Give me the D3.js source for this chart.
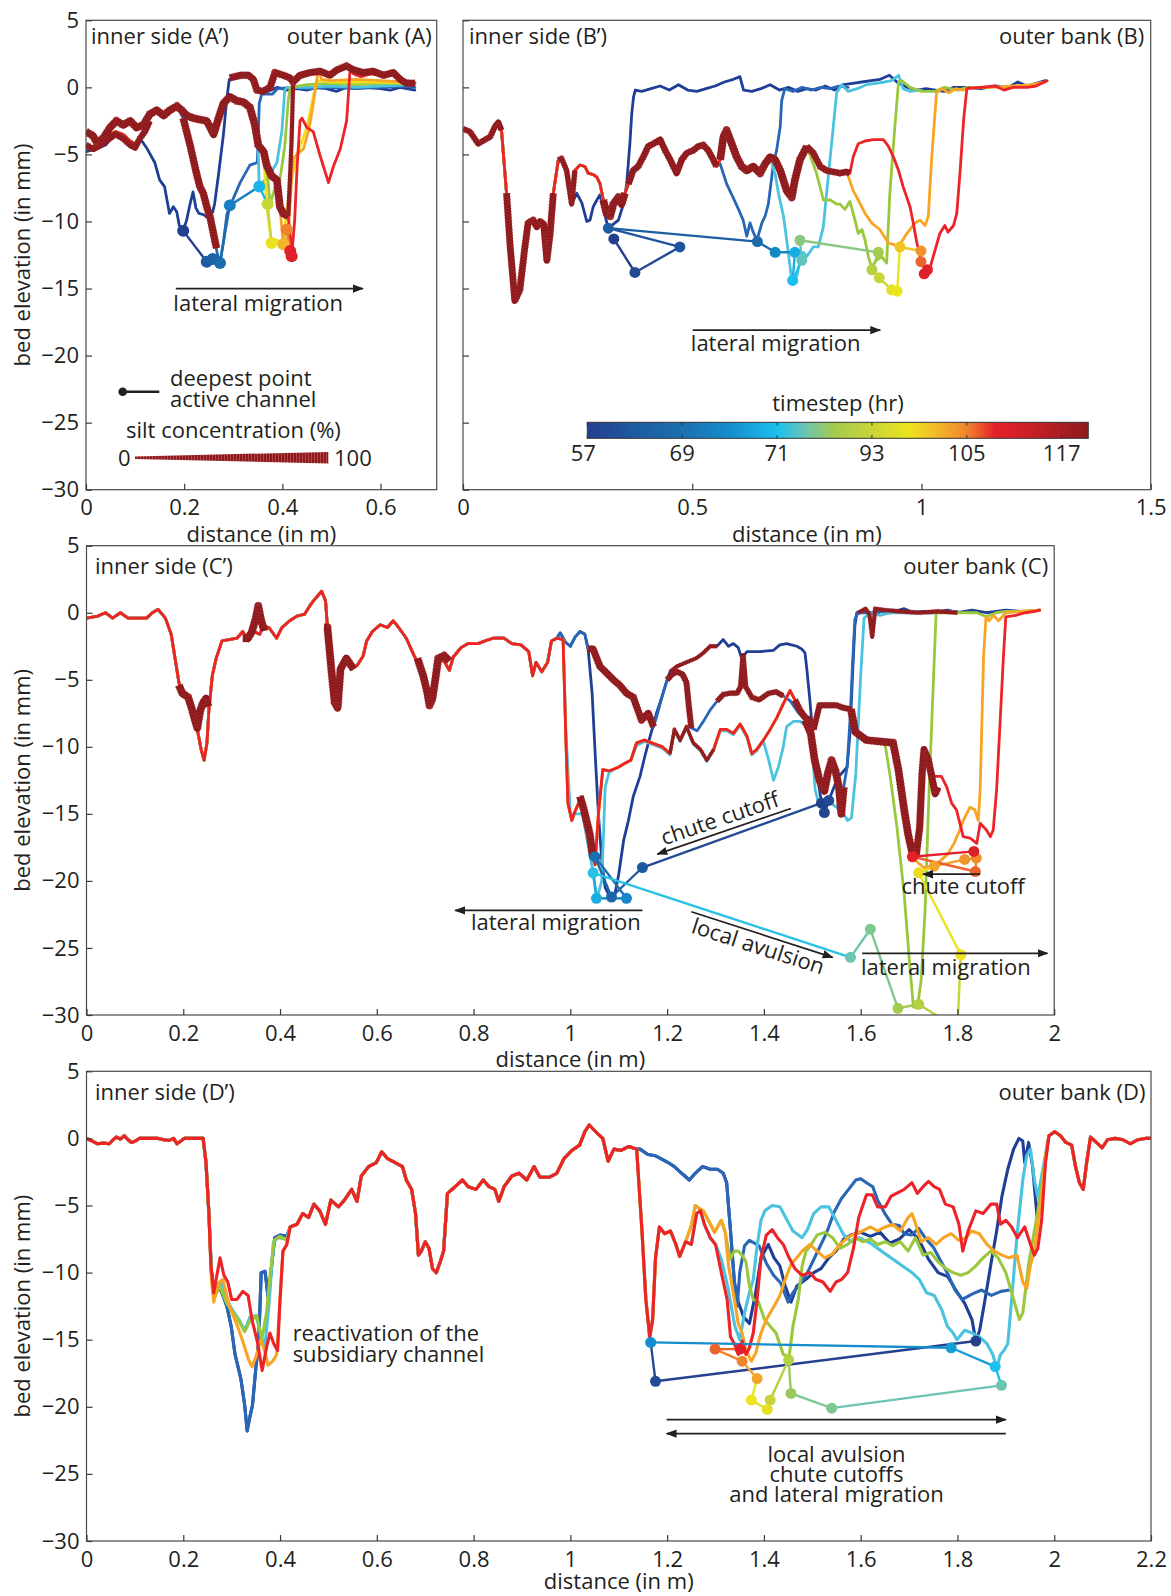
<!DOCTYPE html>
<html>
<head>
<meta charset="utf-8">
<title>Bed elevation profiles across the bend</title>
<script src="https://cdn.jsdelivr.net/npm/d3@7/dist/d3.min.js"></script>
<style>
  html, body { margin: 0; padding: 0; background: #fff; }
  svg { display: block; }
  text { font-family: "Open Sans", "Noto Sans", "DejaVu Sans", sans-serif; fill: #231f20; }
</style>
</head>
<body>
<svg id="chart" width="1171" height="1596"></svg>
<script>
// ---------------- timestep colour bar ----------------
const barTickLabels = ["57", "69", "71", "93", "105", "117"];
const barStops  = [0, 0.5, 1.0, 1.5, 2.0, 2.3, 2.6, 3.0, 3.4, 3.7, 4.0, 4.3, 4.7, 5.0, 5.28];
const barColors = ["#243f8e", "#1e5aa0", "#1a70b0", "#148dcc", "#1cc0ef", "#6cc5b2", "#a3cb4e",
                   "#c8d538", "#ece41e", "#f3b52a", "#ef842c", "#e5202a", "#c71f26", "#a81d22", "#8d1b1e"];

// colours of the bed profiles (one per timestep) and of the silt overlay
const profileColors = {
  navy: "#1f3f96", blue: "#2a66b6", cyan: "#4bc2de", green: "#99c83d",
  yellow: "#f1de1f", orange: "#f8a424", red: "#ec2328", silt: "#8c1a1c"
};

// ---------------- panel A : profile A'-A ----------------
const aInner = [[0,-4.6],[.015,-4.4],[.03,-4.2],[.045,-3.6],[.06,-3.3],[.075,-3.5],[.09,-4],[.1,-4.2],[.11,-3.8]];
const aRidge = [[.13,-2],[.144,-1.7],[.158,-2.1],[.171,-1.7],[.185,-1.4],[.195,-1.7],[.205,-2.1],[.219,-2.3],[.232,-2.4],
  [.246,-2.5],[.26,-3.5],[.27,-2.3],[.28,-1.2],[.293,-0.7],[.307,-1],[.321,-1.1],[.334,-1.5],[.344,-2.8],[.351,-4.3],[.362,-4.8]];
const aNavy = [[0,-4.8],[.02,-4.6],[.04,-4.3],[.06,-3.4],[.08,-3.6],[.095,-4.4],[.11,-3.8],[.125,-4.6],[.14,-5.6],[.15,-6.9],
  [.16,-7.4],[.165,-8.4],[.17,-9.4],[.178,-8.9],[.185,-9.3],[.19,-10.3],[.198,-10.7],[.205,-9.9],[.212,-8.7],[.218,-7.8],
  [.224,-9],[.23,-9.4],[.24,-9.5],[.25,-9.8],[.258,-9.3],[.262,-8.7],[.27,-6.5],[.28,-3.5],[.287,-0.8],[.292,0.6],[.31,0.7],
  [.33,0.9],[.345,0.5],[.35,-0.2],[.37,-0.3],[.39,0],[.41,-0.2],[.43,-0.1],[.45,-0.2],[.47,0],[.49,-0.1],[.51,-0.3],[.53,0],
  [.55,-0.1],[.57,0],[.6,-0.1],[.62,-0.2],[.64,0],[.67,-0.2]];
const aBlueTail = [[.198,-2.3],[.212,-4.3],[.225,-6.4],[.239,-7.9],[.253,-9.7],[.263,-11.5],[.268,-12.5],[.273,-13.1],[.28,-11.5],
  [.287,-9.5],[.293,-8.8],[.3,-8.3],[.314,-7.1],[.334,-5.8],[.349,-5.6],[.353,-1.2],[.358,-0.5],[.38,-0.5],[.39,-0.1],[.42,0],
  [.45,-0.1],[.5,0],[.55,-0.1],[.6,0],[.65,0.1],[.67,0]];
const aCyanTail = [[.351,-5],[.353,-7.4],[.362,-7],[.375,-6.5],[.389,-5.6],[.399,-3.3],[.405,-0.2],[.41,0],[.45,0],[.5,0.1],
  [.55,0],[.6,0.1],[.67,0.2]];
const aGreenTail = [[.368,-5.8],[.375,-8.7],[.385,-7.5],[.395,-6.9],[.405,-4.4],[.412,-1],[.416,0],[.45,0.2],[.5,0.3],[.55,0.2],
  [.6,0.3],[.67,0.3]];
const aYellowTail = [[.368,-8.8],[.378,-11.6],[.39,-11.4],[.4,-11.7],[.41,-9],[.418,-7],[.43,-5],[.45,-3],[.47,0.5],[.5,0.4],
  [.6,0.4],[.67,0.3]];
const aOrangeTail = [[.368,-5.8],[.378,-6.6],[.389,-6.9],[.395,-8.9],[.402,-11.7],[.41,-11.9],[.415,-9],[.422,-5.3],[.43,-5],
  [.443,-4.6],[.455,-3],[.463,-1.2],[.47,0.5],[.473,1.3],[.48,0.6],[.5,0.5],[.55,0.6],[.6,0.5],[.65,0.4],[.67,0.4]];
const aRedTail = [[.368,-5.8],[.378,-6.6],[.389,-6.9],[.395,-8.9],[.402,-9.4],[.412,-9.6],[.416,-11],[.419,-12.6],[.425,-10],
  [.43,-6],[.436,-2.5],[.44,-2.3],[.45,-3],[.463,-3.3],[.477,-5.1],[.494,-7.1],[.504,-5.9],[.518,-4.6],[.531,-2.5],[.538,1.3],
  [.545,1],[.56,0.8],[.58,1],[.6,0.9],[.62,1],[.64,0.6],[.67,0.3]];
const aSiltLeft = [[0,-3.3],[.014,-3.6],[.022,-4.1],[.035,-3.8],[.049,-3],[.062,-2.5],[.076,-2.8],[.09,-2.5],[.103,-3],[.117,-2.8]];
const aSiltDrop = [[.368,-5.8],[.378,-6.6],[.389,-6.9],[.395,-8.9],[.402,-9.4],[.412,-9.6]];
const aSiltLower = [[0,-4.3],[.015,-4.6],[.03,-4.3],[.045,-3.9],[.06,-3.5],[.075,-3.8],[.09,-4.3],[.1,-4.5],[.11,-3.8],[.12,-3.3],[.13,-2.5]];
const aSiltSlope = [[.198,-2.3],[.212,-4.3],[.225,-6.4],[.232,-7.4],[.239,-7.9],[.246,-8.9],[.253,-9.7],[.263,-11.5],[.266,-12]];
const aSiltTop = [[.293,0.7],[.314,0.9],[.331,0.9],[.341,0.6],[.348,-0.2],[.361,-0.3],[.375,0],[.385,1.1],[.402,0.9],[.416,0.7],
  [.422,0.4],[.436,0.9],[.456,1.1],[.477,1.2],[.497,0.9],[.511,1.3],[.531,1.6],[.545,1.3],[.565,1.1],[.585,1.2],[.606,0.9],
  [.626,1.1],[.64,0.6],[.653,0.3],[.67,0.3]];
const aSiltWall = [[.422,0.3],[.419,-3.8],[.416,-6.4],[.412,-9.6]];
// deepest point of the active channel: [distance, elevation, position on the timestep bar]
const aTrack = [[.198,-10.7,0],[.246,-13,0.5],[.258,-12.8,0.7],[.273,-13.1,0.9],[.293,-8.8,1.3],[.353,-7.4,1.9],[.37,-8.7,3.0],
  [.378,-11.6,3.35],[.402,-11.7,3.7],[.409,-10.6,4.0],[.416,-12.2,4.3],[.419,-12.6,4.4]];

// ---------------- panel B : profile B'-B ----------------
const bCommon = [[0,-3.1],[.015,-3.3],[.033,-4.2],[.048,-3.9],[.059,-3.7],[.07,-2.9],[.077,-2.6],[.084,-3.2],[.095,-7.9],[.103,-11.9],
  [.113,-15.9],[.124,-15.1],[.135,-11.9],[.142,-10.1],[.153,-9.9],[.161,-10.4],[.168,-10],[.176,-10.2],[.183,-12.9],[.19,-10.9],
  [.197,-7.9],[.208,-5.4],[.215,-5.3],[.226,-6.2],[.237,-8.7],[.244,-6.2],[.255,-5.8],[.266,-5.9],[.273,-6.4],[.284,-6.5],
  [.292,-6.7],[.299,-7.2],[.306,-8.4],[.313,-9.4],[.321,-9.6],[.328,-8.7],[.339,-8.2],[.346,-8.7],[.353,-7.9],[.361,-7.2],
  [.371,-6.2],[.382,-5.9],[.393,-5.2],[.404,-4.4],[.415,-4.2],[.43,-3.9],[.441,-4.7],[.452,-5.4],[.466,-6.4],[.477,-5.4],
  [.488,-4.9],[.502,-4.7],[.513,-4.4],[.524,-4.3],[.535,-4.7],[.546,-5.4],[.553,-5.9],[.561,-5.4],[.568,-3.7],[.575,-3.2],
  [.586,-4.2],[.597,-5.2],[.608,-5.9],[.619,-6.2],[.633,-5.9],[.648,-6.4],[.659,-5.7],[.67,-5.2],[.681,-5.4],[.692,-6.2],
  [.706,-7.7],[.717,-8.2],[.724,-6.9],[.735,-5.4],[.75,-4.4],[.764,-4.9],[.779,-5.9],[.793,-6.2],[.808,-6.3],[.822,-6.4],
  [.837,-6.3],[.844,-6.4]];
const bNavyTail = [[.248,-7.9],[.259,-8.6],[.27,-10],[.277,-9.9],[.284,-8.9],[.292,-8.4],[.299,-8],[.31,-9.6],[.317,-10.5],
  [.328,-10.2],[.339,-9.9],[.35,-8.7],[.357,-7.2],[.364,-4.2],[.368,-2],[.372,-0.7],[.376,-0.2],[.39,-0.3],[.41,-0.1],[.43,0.1],
  [.45,-0.2],[.47,0.2],[.49,-0.2],[.51,-0.3],[.53,-0.1],[.55,0.1],[.57,0.4],[.59,0.6],[.604,0.8],[.612,-0.2],[.63,-0.3],
  [.65,-0.1],[.67,0.2],[.69,-0.2],[.71,0],[.73,-0.3],[.75,-0.1],[.77,-0.2],[.79,0.1],[.81,-0.2],[.83,0.2],[.85,0.3],[.87,0.4],
  [.89,0.5],[.91,0.6],[.93,0.9],[.95,0.3],[.97,0],[.99,-0.2],[1.01,-0.1],[1.03,-0.2],[1.05,-0.3],[1.07,0],[1.1,0],[1.13,-0.1],
  [1.16,0.1],[1.19,0],[1.21,0.4],[1.23,0.1],[1.25,0.3],[1.27,0.5]];
const bBlueTail = [[.561,-5.7],[.575,-7.2],[.589,-8.2],[.601,-9.1],[.611,-9.9],[.619,-11.1],[.626,-10.1],[.633,-10.8],[.641,-11.4],
  [.652,-10.1],[.659,-9.6],[.666,-8.7],[.677,-5.7],[.684,-4.7],[.692,-2.9],[.695,-1],[.702,-0.1],[.72,-0.3],[.74,0],[.76,-0.2],
  [.78,0],[.8,-0.1],[.82,0.1],[.84,0]];
const bCyanTail = [[.681,-6.5],[.688,-7.9],[.699,-9.6],[.71,-12.4],[.717,-14.4],[.728,-14.1],[.735,-12.9],[.742,-12.3],[.75,-12.6],
  [.764,-11.9],[.775,-11.9],[.786,-10.4],[.793,-7.9],[.804,-4.2],[.815,-0.4],[.826,0.2],[.84,-0.3],[.86,-0.1],[.88,0.2],[.9,0.3],
  [.92,0.4],[.935,0.5],[.95,0.9],[.96,-0.1],[.975,-0.3],[1.0,-0.2]];
const bGreenTail = [[.771,-6.4],[.786,-8.4],[.801,-8.4],[.815,-8.7],[.822,-8.7],[.833,-9.1],[.844,-8.5],[.855,-9.9],[.862,-10.9],
  [.87,-10.6],[.877,-11.4],[.884,-12.6],[.891,-13.4],[.902,-12.9],[.913,-12.6],[.924,-13.1],[.931,-7.9],[.942,-2.9],[.95,0.4],
  [.957,0.5],[.975,0],[1.0,-0.3],[1.03,-0.3],[1.05,0],[1.08,-0.2],[1.1,0]];
const bOrangeTail = [[.851,-7.7],[.862,-8.4],[.877,-9.4],[.891,-10.1],[.909,-10.6],[.928,-11.6],[.946,-11.8],[.957,-11.5],
  [.968,-10.9],[.986,-10.1],[.997,-9.9],[1.008,-10.3],[1.015,-9.6],[1.022,-5.4],[1.03,-1.7],[1.033,-0.4],[1.045,-0.1],
  [1.06,-0.4],[1.075,-0.1],[1.09,-0.2],[1.11,0],[1.15,0],[1.2,0.1],[1.24,0.2],[1.27,0.4]];
const bRedTail = [[.851,-5.2],[.862,-4.2],[.877,-4],[.895,-3.9],[.917,-3.9],[.928,-4.4],[.939,-5.2],[.95,-6.2],[.96,-7.4],
  [.975,-8.9],[.982,-10.1],[.99,-11.6],[.997,-12.6],[1.008,-13.6],[1.019,-13.4],[1.03,-12.1],[1.04,-10.9],[1.051,-10.3],
  [1.058,-10.8],[1.07,-10.3],[1.077,-9.4],[1.084,-6.4],[1.092,-2.4],[1.099,-0.1],[1.128,0],[1.16,0.1],[1.18,-0.2],[1.2,0],
  [1.23,0],[1.25,0.1],[1.274,0.5]];
// silt cover along the shared part of the profile: [from, to, concentration %]
const bSiltSpans = [[0,.09,70],[.09,.2,85],[.2,.245,60],[.3,.36,100],[.36,.56,80],[.56,.75,100],[.75,.844,80]];
const bTrack = [[.329,-11.3,0],[.375,-13.8,0.2],[.473,-11.9,0.4],[.317,-10.5,0.6],[.642,-11.5,0.9],[.681,-12.3,1.4],
  [.724,-12.3,1.8],[.719,-14.4,2.0],[.739,-12.9,2.25],[.735,-11.4,2.45],[.906,-12.3,2.6],[.892,-13.6,2.8],[.908,-14.2,3.0],
  [.935,-15.1,3.3],[.947,-15.2,3.4],[.953,-11.9,3.6],[.999,-12.2,3.9],[.999,-13,4.1],[1.013,-13.6,4.3],[1.006,-13.9,4.4]];

// ---------------- panel C : profile C'-C ----------------
const cInner = [[0,-0.4],[.023,-0.25],[.039,0],[.054,-0.4],[.07,0],[.086,-0.4],[.101,-0.4],[.124,-0.4],[.136,0],[.148,0.25],
  [.163,-0.4],[.175,-1.6],[.183,-3.4],[.191,-5.2],[.198,-6.2],[.21,-6.4],[.218,-7.2],[.229,-8.7],[.237,-10.2],[.243,-11],
  [.249,-9.7],[.253,-7.2],[.26,-4.7],[.268,-3.4],[.28,-2.1],[.295,-2],[.311,-1.9],[.323,-1.4],[.334,-2.1],[.346,-1.4],
  [.358,-1.6],[.365,-1],[.377,-1.1],[.393,-1.9],[.404,-1.1],[.42,-0.6],[.435,-0.25],[.451,-0.1],[.463,0.6],[.474,1.1],
  [.486,1.6],[.494,0.9],[.498,-1.1],[.506,-3.4],[.517,-6.9],[.525,-4.4],[.537,-3.4],[.548,-4.2],[.56,-3.9],[.572,-3.2],
  [.579,-2.1],[.591,-1.4],[.607,-0.9],[.622,-1.1],[.634,-0.6],[.645,-1.1],[.661,-1.9],[.677,-3.2],[.692,-4.2],[.704,-5.7],
  [.712,-6.7],[.719,-5.2],[.727,-3.5],[.739,-3.6],[.75,-4.3],[.758,-3.3],[.774,-2.6],[.789,-2.3],[.809,-2.3],[.824,-2.1],
  [.84,-1.9],[.863,-1.9],[.879,-2.3],[.898,-2.4],[.914,-2.9],[.922,-4.7],[.929,-3.7],[.941,-4.4],[.953,-3.7],[.961,-2.1],
  [.972,-1.9]];
const cNavyTail = [[.979,-1.5],[.99,-2.2],[1.0,-2.5],[1.01,-1.8],[1.02,-1.4],[1.03,-1.6],[1.037,-2.8],[1.045,-6],[1.052,-11],
  [1.058,-15],[1.065,-18.5],[1.072,-20.5],[1.082,-21.2],[1.092,-21],[1.1,-19.5],[1.11,-17],[1.12,-15.5],[1.13,-13.7],
  [1.144,-12.2],[1.154,-10.7],[1.165,-9.2],[1.172,-8.3],[1.178,-7.5],[1.189,-6.3],[1.2,-5],[1.206,-4.4],[1.22,-4],[1.24,-3.7],
  [1.26,-3.4],[1.275,-3],[1.289,-2.5],[1.303,-2.5],[1.316,-2],[1.327,-2.5],[1.337,-2.3],[1.347,-2.6],[1.354,-3.4],[1.365,-2.9],
  [1.392,-2.9],[1.42,-2.8],[1.433,-2.4],[1.447,-2.3],[1.457,-2.4],[1.468,-2.5],[1.478,-2.7],[1.485,-3],[1.489,-4.3],
  [1.495,-6.5],[1.5,-8.7],[1.51,-12],[1.517,-13.7],[1.525,-14.9],[1.534,-14],[1.545,-13],[1.555,-12.2],[1.565,-11.8],
  [1.572,-11.5],[1.578,-9],[1.584,-4],[1.588,-1],[1.592,0],[1.61,0.1],[1.63,-0.1],[1.65,0.2],[1.67,0.1],[1.69,0.3],[1.71,0],
  [1.73,0.1],[1.75,0],[1.78,0.2],[1.8,0],[1.83,0.2],[1.86,0],[1.88,0.1],[1.9,0.2],[1.93,0.1],[1.95,0.1],[1.97,0.2]];
const cBlueTail = [[.979,-1.5],[.99,-2.2],[1.0,-2.5],[1.01,-1.8],[1.02,-1.4],[1.03,-1.6],[1.037,-2.7],[1.047,-2.7],[1.061,-4],
  [1.075,-4.5],[1.089,-5],[1.102,-5.4],[1.116,-6],[1.13,-6.3],[1.14,-7.3],[1.147,-8],[1.161,-7.5],[1.172,-8.5],[1.178,-7.8],
  [1.19,-6.2],[1.2,-5],[1.21,-4.6],[1.22,-4.4],[1.232,-4.6],[1.24,-5.2],[1.245,-7],[1.25,-8.6],[1.262,-8.8],[1.275,-8.1],
  [1.29,-7.2],[1.303,-6.6],[1.316,-6.1],[1.33,-6],[1.345,-6],[1.352,-5.5],[1.357,-3.2],[1.362,-5.5],[1.375,-6.3],[1.39,-6.5],
  [1.41,-6],[1.425,-5.9],[1.44,-6.2],[1.455,-6.6],[1.47,-7.4],[1.485,-8],[1.497,-9],[1.505,-11],[1.515,-12.5],[1.525,-13.3],
  [1.532,-12],[1.54,-11],[1.548,-11.8],[1.555,-13],[1.56,-15],[1.565,-13],[1.572,-11.5],[1.578,-8],[1.583,-4],[1.588,-0.5],
  [1.595,0],[1.62,0],[1.64,0.1],[1.66,0],[1.7,0.1],[1.74,0],[1.8,0.1]];
const cCyanTail = [[.985,-2],[.991,-9],[1.0,-15],[1.01,-15],[1.025,-15],[1.035,-17],[1.047,-19.4],[1.055,-21.3],[1.065,-20],
  [1.072,-13],[1.08,-11.9],[1.1,-11.5],[1.125,-11],[1.137,-9.9],[1.153,-9.6],[1.175,-9.9],[1.19,-10.1],[1.206,-10.6],
  [1.215,-8.8],[1.227,-9.6],[1.24,-8.6],[1.254,-9.8],[1.269,-10.3],[1.282,-11.1],[1.296,-10.3],[1.31,-8.8],[1.323,-8.8],
  [1.337,-9.1],[1.351,-8.4],[1.365,-9.3],[1.375,-10.6],[1.385,-10.3],[1.399,-9.6],[1.41,-11],[1.42,-12.5],[1.43,-11.5],
  [1.44,-10],[1.447,-8.5],[1.461,-8.1],[1.475,-8.1],[1.489,-8.5],[1.499,-9.5],[1.506,-13.2],[1.513,-14.2],[1.53,-14],
  [1.55,-14.5],[1.565,-15],[1.573,-15.5],[1.581,-15.3],[1.59,-12],[1.6,-4.7],[1.607,-0.4],[1.62,0],[1.64,-0.2],[1.66,0],
  [1.7,0],[1.75,0],[1.8,0.1]];
const cRedTail = [[.985,-2],[.991,-9.7],[.995,-14.2],[1.003,-15.5],[1.011,-14.7],[1.023,-13.7],[1.03,-14.5],[1.04,-17],
  [1.051,-18.8],[1.058,-15],[1.067,-11.7],[1.08,-11.8],[1.1,-11.5],[1.114,-11.2],[1.125,-11],[1.137,-9.7],[1.153,-9.5],
  [1.175,-9.8],[1.19,-10],[1.206,-10.5],[1.215,-8.7],[1.227,-9.5],[1.24,-8.5],[1.254,-9.7],[1.269,-10.2],[1.282,-11],
  [1.296,-10.2],[1.31,-8.7],[1.323,-8.7],[1.337,-9],[1.351,-8.3],[1.365,-9.2],[1.375,-10.5],[1.385,-10.2],[1.399,-9.5],
  [1.413,-8.7],[1.427,-7.8],[1.44,-6.8],[1.454,-5.8],[1.464,-6.5],[1.475,-7.3],[1.485,-7.8],[1.495,-8],[1.503,-8.7],
  [1.515,-6.9],[1.526,-6.9],[1.55,-6.9],[1.565,-7.1],[1.581,-7.2],[1.589,-8.9],[1.612,-9.5],[1.64,-9.6],[1.667,-9.7],
  [1.678,-11.7],[1.69,-14.7],[1.698,-16.5],[1.706,-17.8],[1.714,-18.3],[1.722,-14.7],[1.727,-12],[1.731,-10.2],[1.74,-11],
  [1.752,-12.2],[1.767,-12.2],[1.778,-13],[1.788,-14.2],[1.798,-14.7],[1.812,-16.7],[1.826,-16.8],[1.84,-17.2],[1.847,-15.7],
  [1.86,-16.2],[1.868,-16.7],[1.874,-16.2],[1.881,-13.2],[1.888,-8.3],[1.895,-3.3],[1.9,-0.3],[1.92,-0.2],[1.94,0],
  [1.96,0.1],[1.97,0.2]];
const cGreenTail = [[1.589,-8.9],[1.612,-9.5],[1.64,-9.6],[1.65,-9.7],[1.661,-12.2],[1.675,-16],[1.69,-21],[1.701,-26.1],
  [1.709,-29.4],[1.717,-29.5],[1.725,-27.4],[1.733,-22.3],[1.74,-14.7],[1.748,-7.2],[1.756,0],[1.78,0],[1.81,0],[1.84,0],
  [1.86,-0.3],[1.88,0],[1.9,0.1],[1.93,0.1],[1.97,0.2]];
const cOrangeTail = [[1.678,-11.7],[1.69,-14.7],[1.706,-17.8],[1.714,-18.5],[1.73,-19],[1.752,-18.9],[1.78,-18],[1.793,-17.2],
  [1.805,-16.2],[1.812,-15.5],[1.826,-14.5],[1.836,-14.7],[1.843,-15.5],[1.847,-13.2],[1.854,-3.3],[1.859,-0.3],[1.865,-0.6],
  [1.875,-0.2],[1.885,-0.6],[1.9,0],[1.93,0.1],[1.97,0.2]];
const cSiltBank1 = [[.191,-5.4],[.198,-6],[.21,-6.3],[.218,-7.2],[.224,-8],[.229,-8.6],[.235,-7.3],[.241,-6.7],[.247,-6.4],[.252,-7]];
const cSiltBank2 = [[.323,-1.9],[.334,-1.9],[.342,-1.4],[.35,-0.4],[.355,0.5],[.36,-0.4],[.365,-1.1],[.373,-1]];
const cSiltBank3 = [[.491,-1.1],[.498,-1.1],[.506,-4.2],[.513,-6.7],[.519,-7.1],[.525,-4.2],[.537,-3.4],[.552,-4.2]];
const cSiltBank4 = [[.684,-3.4],[.696,-4.7],[.704,-5.9],[.709,-6.9],[.715,-6.4],[.722,-4.7],[.727,-3.4],[.739,-3.2],[.75,-3.6]];
const cSiltScarp = [[1.02,-13.7],[1.028,-14.7],[1.04,-16.5],[1.047,-18.3]];
const cSiltDrop = [[1.58,-7.2],[1.589,-8.9],[1.612,-9.5],[1.64,-9.6],[1.667,-9.7],[1.678,-11.7],[1.69,-14.7],[1.698,-16.5],
  [1.706,-17.8],[1.714,-18.3]];
const cSiltPeak = [[1.714,-18.3],[1.722,-16],[1.727,-12],[1.731,-10.2],[1.74,-11],[1.754,-13.5],[1.76,-13]];
const cSiltFlat = [[1.595,0],[1.61,0.3],[1.618,-0.1],[1.624,-1.8],[1.63,0.3],[1.65,0.2],[1.68,0.1],[1.72,0],[1.76,0.1],[1.8,0]];
const cSiltTerrace = [[1.503,-8.7],[1.515,-6.9],[1.526,-6.9],[1.55,-6.9],[1.565,-7.1],[1.581,-7.2]];
const cTrack = [[1.519,-14.2,0],[1.525,-14.9,0.1],[1.534,-14,0.2],[1.149,-19,0.5],[1.085,-21.2,0.8],[1.051,-18.2,1.0],
  [1.116,-21.3,1.4],[1.054,-21.3,1.8],[1.047,-19.4,2.05],[1.579,-25.7,2.3],[1.62,-23.6,2.4],[1.677,-29.5,2.6],
  [1.72,-29.2,2.8],[1.8,-31,3.0],[1.807,-25.5,3.4],[1.72,-19.4,3.45],[1.752,-18.9,3.8],[1.815,-18.4,3.9],[1.839,-18.3,3.95],
  [1.837,-19.3,4.1],[1.707,-18.2,4.3],[1.834,-17.8,4.45]];

// ---------------- panel D : profile D'-D ----------------
const dInner = [[0,0],[.012,-0.2],[.023,-0.4],[.035,-0.35],[.047,-0.4],[.055,-0.1],[.062,0.1],[.07,-0.05],[.078,0.2],[.086,-0.1],
  [.093,-0.3],[.101,-0.2],[.109,0],[.13,0],[.148,0],[.16,-0.1],[.171,-0.15],[.18,0],[.187,-0.4],[.195,-0.2],[.202,0],[.22,0],[.241,0]];
const dChannelNavy = [[.247,-1.8],[.253,-5.6],[.258,-9.8],[.263,-11.2],[.272,-11],[.28,-11.5],[.29,-12.5],[.299,-14],
  [.307,-16.1],[.319,-17.9],[.327,-19.9],[.332,-21.8],[.338,-20.7],[.343,-19.9],[.35,-17.1],[.356,-15.1],[.361,-10],
  [.369,-9.9],[.376,-12],[.381,-10],[.389,-7.4],[.4,-7.2],[.414,-7.3]];
const dChannelCyan = [[.247,-1.8],[.253,-5.6],[.258,-10],[.263,-11.8],[.272,-11],[.28,-10.8],[.29,-12],[.3,-12.7],[.315,-13.5],
  [.327,-14.3],[.338,-13.3],[.35,-13.2],[.36,-14.5],[.368,-15.8],[.378,-12],[.386,-7.8],[.395,-7.4],[.414,-7.5]];
const dChannelGreen = [[.247,-1.8],[.253,-5.6],[.258,-10],[.263,-12],[.275,-11],[.29,-12.3],[.3,-12.8],[.315,-13.6],
  [.327,-14.4],[.338,-13.6],[.352,-13.2],[.362,-15],[.372,-13],[.38,-10],[.388,-7.6],[.4,-7.3],[.414,-7.6]];
const dChannelOrange = [[.247,-1.8],[.253,-5.6],[.258,-10.5],[.263,-12.2],[.272,-10.8],[.282,-10.5],[.295,-12.5],[.31,-13.8],
  [.322,-15],[.335,-16.5],[.342,-17],[.35,-16.3],[.36,-15],[.368,-15.8],[.375,-16.9],[.385,-16.6],[.393,-16.1],[.4,-12],
  [.406,-8.4],[.414,-7.9]];
const dChannelRed = [[.247,-1.8],[.253,-5.6],[.257,-9.4],[.263,-11.5],[.268,-10.5],[.276,-8.9],[.284,-10.2],[.292,-10.7],
  [.3,-12],[.311,-12],[.323,-11.4],[.334,-11.7],[.342,-13.5],[.354,-15.3],[.363,-17.3],[.372,-15.6],[.379,-14.5],[.387,-15.3],
  [.395,-15.8],[.4,-12],[.406,-8.4],[.414,-7.9]];
const dMiddle = [[.421,-6.6],[.435,-6.4],[.447,-5.6],[.459,-5.9],[.47,-4.9],[.482,-5.4],[.494,-6.4],[.505,-4.6],[.521,-5.1],
  [.533,-4.6],[.548,-3.8],[.559,-4.7],[.568,-2.8],[.583,-2.1],[.599,-1.8],[.61,-1],[.622,-1.5],[.638,-1.8],[.653,-2.1],
  [.661,-3.1],[.672,-3.8],[.68,-5.6],[.686,-8.7],[.692,-8.4],[.7,-7.7],[.708,-8.2],[.715,-9.7],[.723,-10],[.731,-9.2],
  [.738,-8.4],[.746,-4.1],[.762,-3.6],[.777,-3.1],[.789,-3.6],[.805,-3.8],[.82,-3.1],[.832,-3.6],[.844,-3.8],[.852,-4.7],
  [.863,-3.6],[.879,-2.8],[.894,-2.6],[.91,-3.1],[.925,-2.1],[.937,-2.9],[.956,-2.9],[.972,-2.6],[.987,-1.5],[1.003,-0.9],
  [1.019,-0.5],[1.03,0.5],[1.039,1],[1.047,0.7],[1.055,0.4],[1.067,0],[1.078,-1.7],[1.09,-0.8],[1.105,-0.9],[1.121,-0.6],
  [1.137,-0.8]];
const dRightNavy = [[1.144,-0.8],[1.16,-1.2],[1.176,-1.3],[1.187,-1.5],[1.202,-1.8],[1.215,-2.1],[1.23,-2.6],[1.246,-3.1],
  [1.258,-2.6],[1.273,-2.1],[1.289,-2.3],[1.304,-2.3],[1.316,-2.6],[1.323,-3.3],[1.331,-6.9],[1.339,-10.7],[1.347,-12.2],
  [1.358,-13.3],[1.37,-13.8],[1.382,-11.7],[1.394,-8.9],[1.409,-7.9],[1.421,-8.9],[1.433,-9.5],[1.444,-11],[1.456,-12.2],
  [1.468,-11],[1.487,-10.5],[1.503,-10],[1.518,-9.7],[1.534,-8.9],[1.549,-8.4],[1.565,-7.5],[1.58,-7.2],[1.6,-7],[1.62,-7.3],
  [1.64,-7],[1.66,-7.8],[1.68,-7.5],[1.7,-6.8],[1.72,-7.5],[1.74,-9],[1.76,-10],[1.78,-10.3],[1.8,-11.5],[1.815,-12.3],
  [1.83,-13.5],[1.838,-15.1],[1.846,-14.3],[1.857,-12],[1.869,-9.4],[1.881,-6.9],[1.892,-4.3],[1.904,-2.3],[1.916,-0.8],
  [1.927,0],[1.935,-0.2],[1.939,-1.8],[1.947,-0.3],[1.955,-2],[1.965,-6],[1.975,-3],[1.989,0.2]];
const dBlueCut = [[1.345,-12.5],[1.35,-10],[1.36,-8],[1.37,-7.6],[1.39,-8],[1.405,-9.3],[1.42,-10.2],[1.435,-10.8],[1.45,-12.2],
  [1.46,-11.5],[1.475,-10.8],[1.49,-10],[1.51,-8.5],[1.53,-7],[1.545,-5.5],[1.56,-4.5],[1.575,-3.8],[1.59,-3.1],[1.6,-3],
  [1.612,-3.3],[1.625,-3.6],[1.635,-4.6],[1.65,-5.6],[1.665,-6.4],[1.68,-6.5],[1.69,-7.1],[1.705,-7.2],[1.72,-6.7],[1.735,-7.5],
  [1.75,-8.1],[1.765,-9.1],[1.78,-10.1],[1.795,-11.3],[1.81,-12],[1.83,-11.6],[1.85,-11.3],[1.87,-11.7],[1.89,-11.4],[1.908,-11.3]];
const dRightRed = [[1.148,-6.9],[1.156,-12],[1.164,-14.8],[1.17,-13.5],[1.176,-8.9],[1.184,-6.6],[1.195,-7.1],[1.207,-6.9],
  [1.218,-7.9],[1.226,-8.8],[1.238,-7.7],[1.25,-7.9],[1.261,-5.6],[1.269,-5.4],[1.277,-6.4],[1.289,-7.4],[1.3,-7.9],[1.312,-10],
  [1.324,-12],[1.331,-14.8],[1.339,-15.3],[1.347,-16.1],[1.355,-15.1],[1.363,-16.1],[1.37,-15.6],[1.378,-14.5],[1.386,-12],
  [1.394,-8.9],[1.405,-7.2],[1.417,-6.8],[1.428,-7.4],[1.44,-7.9],[1.452,-8.9],[1.464,-9.7],[1.479,-10.2],[1.495,-10],
  [1.507,-10.5],[1.522,-10.7],[1.537,-11.4],[1.549,-10.7],[1.561,-10.5],[1.573,-10],[1.585,-8.2],[1.596,-5.9],[1.612,-4.2],
  [1.624,-4.2],[1.635,-5.1],[1.651,-5.1],[1.663,-4.3],[1.674,-4.1],[1.69,-3.8],[1.706,-3.3],[1.717,-4.1],[1.729,-3.6],
  [1.74,-3.2],[1.752,-3.6],[1.763,-3.8],[1.775,-4.9],[1.791,-5.1],[1.803,-6.4],[1.811,-8.4],[1.822,-6.9],[1.838,-5.4],
  [1.853,-5.6],[1.869,-4.9],[1.881,-4.9],[1.889,-6.4],[1.9,-6.1],[1.912,-6.6],[1.924,-7.4],[1.939,-6.6],[1.951,-7.9],
  [1.959,-8.7],[1.966,-8.2],[1.974,-6.1],[1.982,-1.8],[1.989,0.2]];
const dRightOrange = [[1.148,-6.9],[1.156,-12],[1.164,-14.8],[1.17,-13.5],[1.176,-8.9],[1.184,-6.6],[1.195,-7.1],[1.207,-6.9],
  [1.218,-7.9],[1.226,-8.8],[1.238,-7.7],[1.25,-6.5],[1.258,-5],[1.265,-5.2],[1.275,-5.4],[1.285,-6.1],[1.298,-7],[1.312,-6.1],
  [1.32,-7],[1.327,-9.5],[1.339,-12],[1.347,-13.8],[1.355,-14.5],[1.363,-15.8],[1.374,-16.6],[1.383,-16],[1.394,-14.5],
  [1.405,-13.5],[1.421,-12.5],[1.433,-11.7],[1.444,-10.5],[1.456,-9.4],[1.468,-8.9],[1.479,-8.4],[1.495,-7.9],[1.51,-8.4],
  [1.526,-8.9],[1.542,-8.6],[1.557,-7.9],[1.573,-7.4],[1.589,-7.1],[1.604,-6.9],[1.62,-6.6],[1.635,-6.9],[1.651,-6.6],
  [1.666,-6.4],[1.682,-6.9],[1.698,-5.9],[1.706,-5.6],[1.713,-6.3],[1.725,-7.7],[1.74,-7.4],[1.756,-7.9],[1.771,-7.4],
  [1.787,-7.1],[1.803,-7.6],[1.818,-7.4],[1.829,-6.9],[1.845,-7.1],[1.861,-7.9],[1.876,-8.4],[1.892,-8.7],[1.907,-8.9],
  [1.923,-8.7],[1.935,-10.7],[1.943,-11.2],[1.951,-9.4],[1.959,-8.4],[1.966,-6.4],[1.974,-4.4],[1.982,-1.3],[1.989,0.2]];
const dGreenCut = [[1.33,-9],[1.339,-8.4],[1.347,-8.4],[1.355,-8.7],[1.363,-9.2],[1.37,-11],[1.378,-12],[1.389,-12.2],
  [1.401,-13.5],[1.413,-14],[1.425,-14.5],[1.44,-16.1],[1.452,-16.3],[1.46,-14],[1.471,-12],[1.479,-9.5],[1.487,-8.4],
  [1.498,-7.9],[1.51,-7.2],[1.526,-7],[1.542,-7.4],[1.557,-8.2],[1.573,-7.9],[1.589,-7.4],[1.604,-7.7],[1.62,-7.5],[1.635,-7.9],
  [1.651,-7.7],[1.666,-8],[1.682,-7.7],[1.698,-8.4],[1.713,-7.4],[1.729,-8.7],[1.745,-8.5],[1.76,-9.2],[1.776,-9.7],[1.791,-10],
  [1.807,-10.2],[1.822,-10],[1.838,-9.5],[1.853,-8.9],[1.869,-8.4],[1.884,-8.9],[1.9,-10],[1.916,-12],[1.928,-13.5],[1.935,-13],
  [1.947,-9.4],[1.959,-6.9],[1.966,-5.5],[1.978,-2.6],[1.989,0.2]];
const dCyanCut = [[1.312,-9],[1.325,-11],[1.34,-14],[1.35,-15],[1.36,-13],[1.37,-11.5],[1.378,-10.5],[1.386,-8],[1.394,-6.1],
  [1.402,-5.4],[1.417,-5],[1.433,-5.1],[1.448,-6.1],[1.46,-6.9],[1.479,-7.4],[1.49,-6.8],[1.503,-5.6],[1.518,-5.1],[1.534,-5.1],
  [1.549,-6.1],[1.565,-7.2],[1.581,-7.7],[1.596,-7.4],[1.62,-7.8],[1.643,-8.4],[1.674,-9.2],[1.706,-10],[1.721,-10.5],
  [1.736,-11.5],[1.752,-11.7],[1.768,-12.8],[1.779,-14],[1.791,-14.5],[1.799,-15],[1.815,-14.3],[1.83,-14.5],[1.846,-14.8],
  [1.861,-15.3],[1.873,-16.1],[1.881,-17.1],[1.889,-16.1],[1.896,-15.8],[1.904,-15.3],[1.912,-12],[1.924,-6.9],[1.935,-3.1],
  [1.943,-1.3],[1.951,-0.8],[1.959,-3.1],[1.966,-4.4],[1.978,-2],[1.989,0.2]];
const dOuter = [[2.001,0.5],[2.013,0.2],[2.024,-0.3],[2.036,-0.5],[2.044,-2.1],[2.052,-3.3],[2.06,-3.8],[2.067,-1.8],[2.075,0.1],
  [2.087,-0.3],[2.099,-0.7],[2.11,-0.1],[2.126,0],[2.142,-0.1],[2.157,-0.4],[2.173,-0.1],[2.188,0],[2.2,0]];
const dTrack = [[1.838,-15.1,0],[1.176,-18.1,0.2],[1.166,-15.2,1.5],[1.787,-15.6,1.65],[1.878,-17,2.0],[1.891,-18.4,2.3],
  [1.54,-20.1,2.4],[1.456,-19,2.55],[1.451,-16.5,2.8],[1.413,-19.5,3.0],[1.407,-20.2,3.3],[1.374,-19.5,3.4],[1.386,-17.9,3.8],
  [1.355,-16.6,4.0],[1.299,-15.7,4.1],[1.351,-15.7,4.35]];

// ---------------- helpers ----------------
const upTo = (arr, x) => arr.filter(p => p[0] <= x);
const span = (arr, a, b) => arr.filter(p => p[0] >= a && p[0] <= b);
const cat = (...parts) => [].concat(...parts);

const panels = [
  { key: "A", left: 86, right: 436.7, top: 20.3, bottom: 489.7, xMax: 0.7145, xTicks: [0, 0.2, 0.4, 0.6], yLabels: true,
    inner: "inner side (A’)", outer: "outer bank (A)", titleY: 16, innerDx: 5, outerDx: 5, lw: 2.8, dotR: 6, xLabelDy: 44,
    profiles: [
      { c: "navy",   pts: aNavy },
      { c: "blue",   pts: cat(aInner, aRidge.slice(0, 5), aBlueTail) },
      { c: "cyan",   pts: cat(aInner, aRidge.slice(0, 18), aCyanTail) },
      { c: "green",  pts: cat(aInner, aRidge, aGreenTail) },
      { c: "yellow", pts: cat(aInner, aRidge, aYellowTail) },
      { c: "orange", pts: cat(aInner, aRidge, aOrangeTail) },
      { c: "red",    pts: cat(aInner, aRidge, aRedTail) }
    ],
    silt: [
      { pts: aSiltLower, conc: 75 }, { pts: cat(aSiltLeft, aRidge, aSiltDrop), conc: 100 },
      { pts: aSiltSlope, conc: 95 }, { pts: aSiltTop, conc: 90 }, { pts: aSiltWall, conc: 40 }
    ],
    track: aTrack,
    notes: [ { arrow: [[0.183, -15], [0.564, -15]] },
             { lines: ["lateral migration"], at: [0.178, -16.05], anchor: "start" } ] },
  { key: "B", left: 463, right: 1150.7, top: 20.3, bottom: 489.7, xMax: 1.5, xTicks: [0, 0.5, 1, 1.5], yLabels: false,
    inner: "inner side (B’)", outer: "outer bank (B)", titleY: 16, innerDx: 6, outerDx: 6.5, lw: 2.8, dotR: 5.5, xLabelDy: 44,
    profiles: [
      { c: "navy",   pts: cat(upTo(bCommon, .237), bNavyTail) },
      { c: "blue",   pts: cat(upTo(bCommon, .553), bBlueTail) },
      { c: "cyan",   pts: cat(upTo(bCommon, .67), bCyanTail) },
      { c: "green",  pts: cat(upTo(bCommon, .757), bGreenTail) },
      { c: "orange", pts: cat(upTo(bCommon, .841), bOrangeTail) },
      { c: "red",    pts: cat(bCommon, bRedTail) }
    ],
    silt: bSiltSpans.map(s => ({ pts: span(bCommon, s[0], s[1]), conc: s[2] })),
    track: bTrack,
    notes: [ { arrow: [[0.501, -18.1], [0.91, -18.1]] },
             { lines: ["lateral migration"], at: [0.497, -19.07], anchor: "start" } ] },
  { key: "C", left: 86.5, right: 1054.2, top: 545.7, bottom: 1015, xMax: 2,
    xTicks: [0, 0.2, 0.4, 0.6, 0.8, 1, 1.2, 1.4, 1.6, 1.8, 2], yLabels: true,
    inner: "inner side (C’)", outer: "outer bank (C)", titleY: 20, innerDx: 8.5, outerDx: 6, lw: 2.8, dotR: 5.5, xLabelDy: 44,
    profiles: [
      { c: "navy",   pts: cat(cInner, cNavyTail) },
      { c: "blue",   pts: cat(cInner, cBlueTail) },
      { c: "cyan",   pts: cat(cInner, cCyanTail) },
      { c: "green",  pts: cat(cInner, upTo(cRedTail, 1.581), cGreenTail) },
      { c: "orange", pts: cat(cInner, upTo(cRedTail, 1.667), cOrangeTail) },
      { c: "red",    pts: cat(cInner, cRedTail) }
    ],
    silt: [
      { pts: cSiltBank1, conc: 100 }, { pts: cSiltBank2, conc: 100 }, { pts: cSiltBank3, conc: 100 },
      { pts: cSiltBank4, conc: 100 }, { pts: cSiltScarp, conc: 100 },
      { pts: span(cBlueTail, 1.037, 1.172), conc: 90 }, { pts: span(cBlueTail, 1.2, 1.26), conc: 70 },
      { pts: span(cBlueTail, 1.3, 1.45), conc: 60 }, { pts: span(cBlueTail, 1.485, 1.565), conc: 100 },
      { pts: span(cNavyTail, 1.206, 1.303), conc: 35 }, { pts: span(cRedTail, 1.2, 1.3), conc: 25 },
      { pts: span(cRedTail, 1.464, 1.503), conc: 80 }, { pts: cSiltTerrace, conc: 70 },
      { pts: cSiltDrop, conc: 100 }, { pts: cSiltPeak, conc: 90 }, { pts: cSiltFlat, conc: 40 }
    ],
    track: cTrack,
    notes: [ { arrow: [[1.149, -22.2], [0.762, -22.2]] },
             { lines: ["lateral migration"], at: [0.970, -23.05], anchor: "middle" },
             { arrow: [[1.456, -14.6], [1.18, -18]], label: "chute cutoff", side: "above" },
             { arrow: [[1.25, -22.3], [1.542, -25.7]], label: "local avulsion", side: "below" },
             { arrow: [[1.847, -19.5], [1.729, -19.5]] },
             { lines: ["chute cutoff"], at: [1.812, -20.35], anchor: "middle" },
             { arrow: [[1.603, -25.4], [1.986, -25.4]] },
             { lines: ["lateral migration"], at: [1.776, -26.4], anchor: "middle" } ] },
  { key: "D", left: 86.5, right: 1151, top: 1071.3, bottom: 1541, xMax: 2.2,
    xTicks: [0, 0.2, 0.4, 0.6, 0.8, 1, 1.2, 1.4, 1.6, 1.8, 2, 2.2], yLabels: true,
    inner: "inner side (D’)", outer: "outer bank (D)", titleY: 21, innerDx: 8.5, outerDx: 5.5, lw: 3.1, dotR: 5.5, xLabelDy: 40,
    profiles: [
      { c: "navy",   pts: cat(dInner, dChannelNavy, dMiddle, dRightNavy, dOuter) },
      { c: "blue",   pts: cat(dInner, dChannelNavy, dMiddle, upTo(dRightNavy, 1.339), dBlueCut) },
      { c: "cyan",   pts: cat(dInner, dChannelCyan, dMiddle, upTo(dRightRed, 1.3), dCyanCut, dOuter) },
      { c: "green",  pts: cat(dInner, dChannelGreen, dMiddle, upTo(dRightOrange, 1.32), dGreenCut, dOuter) },
      { c: "orange", pts: cat(dInner, dChannelOrange, dMiddle, dRightOrange, dOuter) },
      { c: "red",    pts: cat(dInner, dChannelRed, dMiddle, dRightRed, dOuter) }
    ],
    silt: [],
    track: dTrack,
    notes: [ { arrow: [[1.199, -20.96], [1.9, -20.96]] },
             { arrow: [[1.9, -22], [1.199, -22]] },
             { lines: ["local avulsion", "chute cutoffs", "and lateral migration"], at: [1.55, -23.5], anchor: "middle" },
             { lines: ["reactivation of the", "subsidiary channel"], at: [0.426, -14.54], anchor: "start" } ] }
];

// ---------------- drawing ----------------
const svg = d3.select("#chart");
const FS = 22;
const LINE_STEP = 20.3;
const ink = "#231f20";
const defs = svg.append("defs");

defs.append("marker").attr("id", "head").attr("viewBox", "0 0 10 10")
  .attr("refX", 9).attr("refY", 5).attr("markerWidth", 11).attr("markerHeight", 11)
  .attr("markerUnits", "userSpaceOnUse").attr("orient", "auto")
  .append("path").attr("d", "M0,1.2 L10,5 L0,8.8 Z").attr("fill", ink);

const timeColor = d3.scaleLinear().domain(barStops).range(barColors).interpolate(d3.interpolateRgb);
const siltWidth = d3.scaleLinear().domain([0, 100]).range([1.8, 7.5]);
const barEnd = barStops[barStops.length - 1];
const fmtY = d => d < 0 ? "\u2212" + Math.abs(d) : String(d);
const fmtX = d => String(+d.toFixed(1));

// multi-line label: one text element, one tspan per line
function multiText(parent, xPos, yPos, lines, anchor) {
  const t = parent.append("text").attr("x", xPos).attr("y", yPos).attr("text-anchor", anchor).attr("font-size", FS);
  lines.forEach((s, i) => t.append("tspan").attr("x", xPos).attr("dy", i === 0 ? "0.36em" : LINE_STEP).text(s));
  return t;
}

svg.append("rect").attr("width", 1171).attr("height", 1596).attr("fill", "#fff");

panels.forEach(p => {
  const x = d3.scaleLinear().domain([0, p.xMax]).range([p.left, p.right]);
  const y = d3.scaleLinear().domain([-30, 5]).range([p.bottom, p.top]);
  const g = svg.append("g").attr("class", "panel-" + p.key);
  const clipId = "clip-" + p.key;
  defs.append("clipPath").attr("id", clipId).append("rect")
    .attr("x", p.left).attr("y", p.top).attr("width", p.right - p.left).attr("height", p.bottom - p.top);

  const plot = g.append("g").attr("clip-path", `url(#${clipId})`);
  const line = d3.line().x(d => x(d[0])).y(d => y(d[1]));

  plot.selectAll("path.profile").data(p.profiles).join("path")
    .attr("class", "profile").attr("d", d => line(d.pts))
    .attr("fill", "none").attr("stroke", d => profileColors[d.c])
    .attr("stroke-width", p.lw).attr("stroke-linejoin", "round").attr("stroke-linecap", "round");

  // silt cover: solid band plus fine cross-hatching along the band
  plot.selectAll("path.silt").data(p.silt).join("path")
    .attr("class", "silt").attr("d", d => line(d.pts))
    .attr("fill", "none").attr("stroke", profileColors.silt)
    .attr("stroke-width", d => siltWidth(d.conc)).attr("stroke-linejoin", "round").attr("stroke-linecap", "butt");
  plot.selectAll("path.silt-hatch").data(p.silt).join("path")
    .attr("class", "silt-hatch").attr("d", d => line(d.pts))
    .attr("fill", "none").attr("stroke", "#a3292d").attr("stroke-opacity", 0.7)
    .attr("stroke-width", d => siltWidth(d.conc) + 1).attr("stroke-dasharray", "0.9 2.1")
    .attr("stroke-linejoin", "round").attr("stroke-linecap", "butt");

  // migration of the deepest point
  const segs = d3.pairs(p.track);
  plot.selectAll("line.track").data(segs).join("line")
    .attr("class", "track")
    .attr("x1", d => x(d[0][0])).attr("y1", d => y(d[0][1]))
    .attr("x2", d => x(d[1][0])).attr("y2", d => y(d[1][1]))
    .attr("stroke", d => timeColor(d[0][2])).attr("stroke-width", 2.4);
  plot.selectAll("circle.track").data(p.track).join("circle")
    .attr("class", "track").attr("cx", d => x(d[0])).attr("cy", d => y(d[1]))
    .attr("r", p.dotR).attr("fill", d => timeColor(d[2]));

  // annotations
  p.notes.forEach(n => {
    if (n.arrow) {
      const [a, b] = n.arrow;
      g.append("line").attr("x1", x(a[0])).attr("y1", y(a[1])).attr("x2", x(b[0])).attr("y2", y(b[1]))
        .attr("stroke", ink).attr("stroke-width", 1.7).attr("marker-end", "url(#head)");
      if (n.label) {
        const pa = [x(a[0]), y(a[1])], pb = [x(b[0]), y(b[1])];
        const lo = pa[0] < pb[0] ? pa : pb, hi = pa[0] < pb[0] ? pb : pa;
        const ang = Math.atan2(hi[1] - lo[1], hi[0] - lo[0]) * 180 / Math.PI;
        const mx = (lo[0] + hi[0]) / 2, my = (lo[1] + hi[1]) / 2;
        g.append("text").attr("transform", `translate(${mx},${my}) rotate(${ang})`)
          .attr("text-anchor", "middle").attr("y", n.side === "above" ? -6 : 20)
          .attr("font-size", FS).text(n.label);
      }
    }
    if (n.lines) multiText(g, x(n.at[0]), y(n.at[1]), n.lines, n.anchor);
  });

  // frame
  g.append("rect").attr("x", p.left).attr("y", p.top).attr("width", p.right - p.left).attr("height", p.bottom - p.top)
    .attr("fill", "none").attr("stroke", "#4a4a4a").attr("stroke-width", 1.2);

  // axes with inward ticks
  const ax = g.append("g").attr("transform", `translate(0,${p.bottom})`)
    .call(d3.axisBottom(x).tickValues(p.xTicks).tickFormat(fmtX).tickSize(-6).tickPadding(10));
  const ay = g.append("g").attr("transform", `translate(${p.left},0)`)
    .call(d3.axisLeft(y).tickValues(d3.range(-30, 6, 5)).tickFormat(p.yLabels ? fmtY : "").tickSize(-6).tickPadding(7));
  [ax, ay].forEach(a => {
    a.select(".domain").remove();
    a.selectAll(".tick line").attr("stroke", "#3a3a3a").attr("stroke-width", 1.2);
    a.selectAll(".tick text").attr("font-size", FS).attr("fill", ink)
      .style("font-family", '"Open Sans", "Noto Sans", sans-serif');
  });

  // titles and axis names
  g.append("text").attr("x", p.left + p.innerDx).attr("y", p.top + p.titleY).attr("dy", "0.36em")
    .attr("font-size", FS).text(p.inner);
  g.append("text").attr("x", p.right - p.outerDx).attr("y", p.top + p.titleY).attr("dy", "0.36em")
    .attr("text-anchor", "end").attr("font-size", FS).text(p.outer);
  g.append("text").attr("x", (p.left + p.right) / 2).attr("y", p.bottom + p.xLabelDy).attr("dy", "0.36em")
    .attr("text-anchor", "middle").attr("font-size", FS).text("distance (in m)");
  if (p.yLabels) {
    g.append("text").attr("transform", `translate(22,${(p.top + p.bottom) / 2}) rotate(-90)`)
      .attr("dy", "0.36em").attr("text-anchor", "middle").attr("font-size", FS).text("bed elevation (in mm)");
  }
});

// ---------------- legend in panel A ----------------
const leg = svg.append("g");
leg.append("line").attr("x1", 122.7).attr("y1", 391.7).attr("x2", 159.3).attr("y2", 391.7)
  .attr("stroke", ink).attr("stroke-width", 2.4);
leg.append("circle").attr("cx", 122.7).attr("cy", 391.7).attr("r", 4.3).attr("fill", ink);
multiText(leg, 170, 378.5, ["deepest point", "active channel"], "start");
leg.append("text").attr("x", 126).attr("y", 430).attr("dy", "0.36em").attr("font-size", FS).text("silt concentration (%)");
leg.append("text").attr("x", 118).attr("y", 457.7).attr("dy", "0.36em").attr("font-size", FS).text("0");
leg.append("text").attr("x", 334).attr("y", 457.7).attr("dy", "0.36em").attr("font-size", FS).text("100");

const stripe = defs.append("pattern").attr("id", "siltStripe").attr("patternUnits", "userSpaceOnUse")
  .attr("width", 3).attr("height", 20);
stripe.append("rect").attr("width", 3).attr("height", 20).attr("fill", profileColors.silt);
stripe.append("rect").attr("x", 2).attr("width", 1).attr("height", 20).attr("fill", "#b3474b");
const wedgeX = d3.scaleLinear().domain([0, 100]).range([135, 328.3]);
leg.append("path")
  .attr("d", `M${wedgeX(0)},${457.7 - 1.2} L${wedgeX(100)},${457.7 - 5.8} L${wedgeX(100)},${457.7 + 5.8} L${wedgeX(0)},${457.7 + 1.2} Z`)
  .attr("fill", "url(#siltStripe)");

// ---------------- timestep colour bar (panel B) ----------------
const barX = d3.scaleLinear().domain([0, 5]).range([587.3, 1061.7]);
const grad = defs.append("linearGradient").attr("id", "timeGrad").attr("x1", "0%").attr("x2", "100%");
barStops.forEach((s, i) => grad.append("stop").attr("offset", (s / barEnd * 100) + "%").attr("stop-color", barColors[i]));
const bar = svg.append("g");
bar.append("rect").attr("x", barX(0)).attr("y", 422.3).attr("width", barX(barEnd) - barX(0)).attr("height", 16)
  .attr("fill", "url(#timeGrad)").attr("stroke", "#333").attr("stroke-width", 1);
barTickLabels.forEach((lab, i) => {
  bar.append("line").attr("x1", barX(i)).attr("x2", barX(i)).attr("y1", 422.3).attr("y2", 425.5)
    .attr("stroke", "#333").attr("stroke-width", 1);
  bar.append("line").attr("x1", barX(i)).attr("x2", barX(i)).attr("y1", 435.1).attr("y2", 438.3)
    .attr("stroke", "#333").attr("stroke-width", 1);
  bar.append("text").attr("x", barX(i) - (i === 0 ? 4 : 0)).attr("y", 453.5).attr("dy", "0.36em").attr("text-anchor", "middle")
    .attr("font-size", FS).text(lab);
});
bar.append("text").attr("x", 838).attr("y", 403.5).attr("dy", "0.36em").attr("text-anchor", "middle")
  .attr("font-size", FS).text("timestep (hr)");
</script>
</body>
</html>
